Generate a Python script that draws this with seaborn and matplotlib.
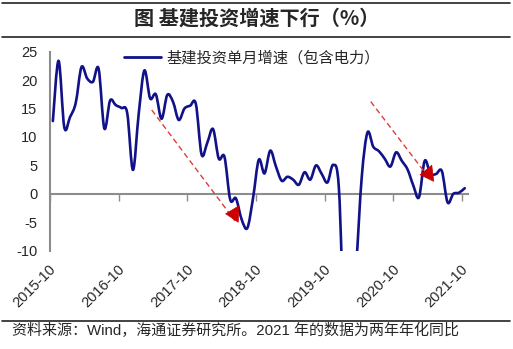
import numpy as np
import pandas as pd
import matplotlib
matplotlib.use("Agg")
import matplotlib.pyplot as plt
import seaborn as sns
from matplotlib.path import Path
from matplotlib.patches import PathPatch
from matplotlib.lines import Line2D
from matplotlib.transforms import ScaledTranslation

# ---------------- data ----------------
months = pd.date_range("2015-10-01", "2021-10-01", freq="MS")
values = [12.8, 23.4, 11.7, 13.5, 16.0, 22.3, 20.3, 19.7, 22.0, 11.5,
          16.4, 15.6, 15.1, 14.2, 4.2, 14.0, 21.7, 16.8, 17.5, 13.2,
          17.4, 16.2, 13.0, 15.0, 15.5, 15.8, 6.9, 9.0, 11.4, 6.2,
          6.5, -1.0, -0.8, -4.5, -6.0, -0.7, 6.0, 3.6, 7.6, 4.8,
          2.3, 3.0, 2.5, 1.6, 3.8, 2.5, 5.0, 3.5, 2.0, 5.1,
          1.0, -25.0, -25.0, -13.0, 3.0, 10.8, 8.3, 7.5, 6.2, 4.8,
          7.3, 5.8, 4.3, 1.5, -0.6, 5.8, 3.5, 3.5, 4.0, -1.5,
          0.0, 0.2, 1.0]
tick_labels = ["2015-10", "2016-10", "2017-10", "2018-10", "2019-10", "2020-10", "2021-10"]
y_ticks = [-10, -5, 0, 5, 10, 15, 20, 25]
series_name = "基建投资单月增速（包含电力）"
title = "图 基建投资增速下行（%）"
source = "资料来源：Wind，海通证券研究所。2021 年的数据为两年年化同比"

# annotation arrows: dashed line (start, end) and triangle head (tip, base centre)
arrow_lines = [((17.78, 14.76), (32.34, -4.75)), ((56.07, 16.22), (66.43, 2.58))]
arrow_heads = [((30.62, -3.51), (32.3, -3.55)), ((64.6, 3.34), (66.35, 3.55))]

# ---------------- style ----------------
sns.set_style("white")
plt.rcParams["font.family"] = ["Liberation Sans", "Noto Sans CJK SC", "DejaVu Sans"]
CJK = ["Noto Sans CJK SC", "DejaVu Sans"]
LINE_C = "#111188"
GRAY = "#8c8c8c"
RED = "#cc0000"

W, H = 513, 349
fig = plt.figure(figsize=(W / 100, H / 100), dpi=100)
ax = fig.add_axes([50 / W, 1 - 250.7 / H, (467.6 - 50) / W, (250.7 - 51.7) / H])

df = pd.DataFrame({"pos": np.arange(len(values)) + 0.5, "value": values, "month": months})
sns.lineplot(data=df, x="pos", y="value", ax=ax, color=LINE_C, lw=2.0)
raw_line = ax.lines[0]
raw_line.set_visible(False)

# smoothed (Excel-like) curve through the same points
xs = df["pos"].to_numpy()
ys = df["value"].to_numpy()
pts = np.column_stack([xs, ys])
verts = [pts[0]]
codes = [Path.MOVETO]
n = len(pts)
for i in range(n - 1):
    p0 = pts[i - 1] if i > 0 else pts[i]
    p1 = pts[i]
    p2 = pts[i + 1]
    p3 = pts[i + 2] if i + 2 < n else pts[i + 1]
    c1 = p1 + (p2 - p0) / 6.0
    c2 = p2 - (p3 - p1) / 6.0
    verts += [c1, c2, p2]
    codes += [Path.CURVE4] * 3
patch = PathPatch(Path(verts, codes), fill=False, edgecolor=LINE_C, lw=1.9,
                  capstyle="round", joinstyle="round", zorder=3)
ax.add_patch(patch)
patch.set_clip_path(ax.patch)

ax.set_xlim(0, len(values))
ax.set_ylim(-10, 25)
ax.set_yticks(y_ticks)
ax.set_yticklabels([str(v) for v in y_ticks], fontsize=10.5)
ax.set_xticks(np.arange(0, len(values), 12))
ax.set_xticklabels(tick_labels, fontsize=10.5, rotation=45, ha="right",
                   va="top", rotation_mode="anchor")
ax.tick_params(axis="x", length=0, pad=8)
ax.tick_params(axis="y", length=4, color=GRAY, width=1, direction="out", pad=5)
for lab in ax.get_xticklabels():
    lab.set_transform(lab.get_transform() + ScaledTranslation(-1 / 100, 0, fig.dpi_scale_trans))
for s in ["top", "right", "bottom"]:
    ax.spines[s].set_visible(False)
ax.spines["left"].set_color(GRAY)
ax.spines["left"].set_linewidth(1.5)
ax.set_xlabel("")
ax.set_ylabel("")

# zero line with tick marks
sec = ax.secondary_xaxis(10 / 35)
sec.set_xticks(np.arange(0, len(values), 12))
sec.set_xticklabels([])
sec.tick_params(axis="x", length=5, color=GRAY, width=1, direction="out")
for s in sec.spines.values():
    s.set_color(GRAY)
    s.set_linewidth(1.5)

# arrows
for (s, e) in arrow_lines:
    ax.plot([s[0], e[0]], [s[1], e[1]], color="#e03c3c", lw=1.0,
            ls=(0, (4, 2.5)), zorder=4)
for (tip, base) in arrow_heads:
    ax.annotate("", xy=tip, xytext=base,
                arrowprops=dict(arrowstyle="-|>,head_length=0.7,head_width=0.45",
                                color=RED, lw=0.5, shrinkA=0, shrinkB=0,
                                mutation_scale=13), zorder=5)

# legend
leg = ax.legend(handles=[Line2D([], [], color=LINE_C, lw=2.0)], labels=[series_name],
                loc="center left", bbox_to_anchor=(124 / W, 1 - 57.7 / H),
                bbox_transform=fig.transFigure, frameon=False, borderpad=0,
                borderaxespad=0, handlelength=2.4, handletextpad=0.35,
                prop={"family": CJK, "size": 11})

# title, separators, source
fig.text(0.5, 1 - 18 / H, title, ha="center", va="center", fontsize=14.5,
         fontweight="bold", family=CJK)
for yy in [3, 37, 321]:
    fig.add_artist(Line2D([2 / W, 510 / W], [1 - yy / H, 1 - yy / H],
                          transform=fig.transFigure, color="#222222", lw=1.2))
fig.text(12 / W, 1 - 330 / H, source, ha="left", va="center", fontsize=10.8,
         family=["Liberation Sans", "Noto Sans CJK SC", "DejaVu Sans"])

fig.savefig("out.png", dpi=100)
